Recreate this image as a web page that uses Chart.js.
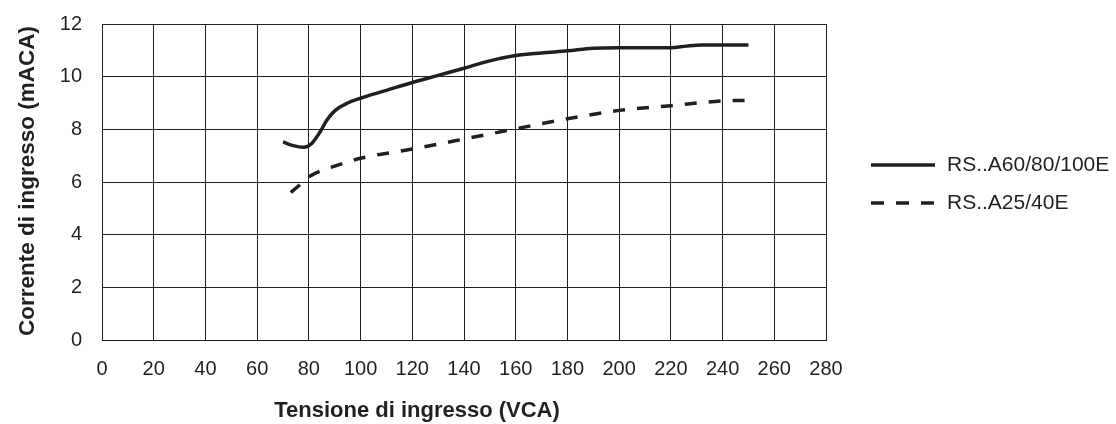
<!DOCTYPE html>
<html>
<head>
<meta charset="utf-8">
<script src="https://cdn.jsdelivr.net/npm/chart.js@4/dist/chart.umd.min.js"></script>
<style>
  html, body { margin: 0; padding: 0; background: #fff; }
  #wrap { width: 1116px; height: 424px; position: relative; }
</style>
</head>
<body>
<div id="wrap"><canvas id="c" width="1116" height="424"></canvas></div>
<script>
const xTicks = [0, 20, 40, 60, 80, 100, 120, 140, 160, 180, 200, 220, 240, 260, 280];
const yTicks = [0, 2, 4, 6, 8, 10, 12];
const seriesNames = ['RS..A60/80/100E', 'RS..A25/40E'];
const xTitle = 'Tensione di ingresso (VCA)';
const yTitle = 'Corrente di ingresso (mACA)';

const solidX = [70, 74, 78, 81, 84, 87, 90, 95, 100, 110, 120, 130, 140, 150, 160, 170, 180, 190, 200, 210, 220, 226, 232, 240, 250];
const solidY = [7.52, 7.38, 7.32, 7.45, 7.85, 8.35, 8.7, 9.0, 9.18, 9.48, 9.78, 10.05, 10.32, 10.6, 10.8, 10.9, 10.98, 11.08, 11.1, 11.1, 11.1, 11.16, 11.2, 11.2, 11.2];

const dashX = [73, 76, 80, 90, 100, 120, 140, 160, 180, 200, 220, 240, 250];
const dashY = [5.6, 5.85, 6.2, 6.6, 6.9, 7.25, 7.63, 8.02, 8.4, 8.72, 8.9, 9.08, 9.1];

const toPts = (xs, ys) => xs.map((x, i) => ({ x: x, y: ys[i] }));

const FONT = "'Liberation Sans', Arial, sans-serif";
const INK = '#231f20';

const annotPlugin = {
  id: 'customLegendAndTitle',
  afterDraw(chart) {
    const ctx = chart.ctx;
    ctx.save();
    // legend
    const x0 = 871, x1 = 935, tx = 947;
    const ys = [165, 203];
    chart.data.datasets.forEach((ds, i) => {
      ctx.strokeStyle = ds.borderColor;
      ctx.lineWidth = 3.3;
      ctx.setLineDash(i === 1 ? [13, 12] : []);
      ctx.beginPath();
      ctx.moveTo(x0, ys[i]);
      ctx.lineTo(x1, ys[i]);
      ctx.stroke();
      ctx.setLineDash([]);
      ctx.fillStyle = INK;
      ctx.font = '21px ' + FONT;
      ctx.textBaseline = 'middle';
      ctx.textAlign = 'left';
      ctx.fillText(ds.label, tx, ys[i]);
    });
    // x axis title
    ctx.font = 'bold 22px ' + FONT;
    ctx.textAlign = 'center';
    ctx.textBaseline = 'alphabetic';
    ctx.fillText(xTitle, 417, 417);
    // y axis title
    ctx.translate(34, 181);
    ctx.rotate(-Math.PI / 2);
    ctx.font = 'bold 22.5px ' + FONT;
    ctx.fillText(yTitle, 0, 0);
    ctx.restore();
  }
};

new Chart(document.getElementById('c'), {
  type: 'line',
  data: {
    datasets: [
      {
        label: seriesNames[0],
        data: toPts(solidX, solidY),
        borderColor: INK,
        borderWidth: 3.5,
        pointRadius: 0,
        cubicInterpolationMode: 'monotone',
        fill: false
      },
      {
        label: seriesNames[1],
        data: toPts(dashX, dashY),
        borderColor: INK,
        borderWidth: 3.5,
        borderDash: [12, 12],
        pointRadius: 0,
        cubicInterpolationMode: 'monotone',
        fill: false
      }
    ]
  },
  options: {
    responsive: false,
    animation: false,
    devicePixelRatio: 1,
    layout: { padding: { left: 0, right: 290, top: 24, bottom: 0 } },
    plugins: { legend: { display: false }, tooltip: { enabled: false } },
    scales: {
      x: {
        type: 'linear',
        min: 0, max: 280,
        afterBuildTicks(scale) { scale.ticks = xTicks.map(v => ({ value: v })); },
        afterFit(scale) { scale.height = 84; scale.paddingLeft = 0; scale.paddingRight = 0; },
        grid: { color: INK, lineWidth: 1, drawTicks: false },
        border: { color: INK, width: 1 },
        ticks: { color: INK, font: { family: FONT, size: 20 }, padding: 17, maxRotation: 0, autoSkip: false }
      },
      y: {
        type: 'linear',
        min: 0, max: 12,
        afterBuildTicks(scale) { scale.ticks = yTicks.map(v => ({ value: v })); },
        afterFit(scale) { scale.width = 102; scale.paddingTop = 0; scale.paddingBottom = 0; },
        grid: { color: INK, lineWidth: 1, drawTicks: false },
        border: { color: INK, width: 1 },
        ticks: { color: INK, font: { family: FONT, size: 20 }, padding: 20 }
      }
    }
  },
  plugins: [annotPlugin]
});
</script>
</body>
</html>
